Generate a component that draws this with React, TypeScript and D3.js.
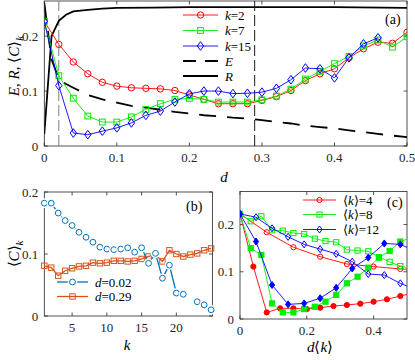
import React from 'react';
import * as d3 from 'd3';

const FONT = '"Liberation Serif","Times New Roman",serif';
const AX = '#262626';

// ---------- Panel (a) ----------
const dGrid = [0, 0.02, 0.04, 0.06, 0.08, 0.1, 0.12, 0.14, 0.16, 0.18, 0.2, 0.22, 0.24, 0.26, 0.28, 0.3, 0.32, 0.34, 0.36, 0.38, 0.4, 0.42, 0.44, 0.46, 0.48, 0.5];
const cK2 = [0.227, 0.185, 0.153, 0.1315, 0.116, 0.109, 0.106, 0.105, 0.104, 0.101, 0.093, 0.085, 0.077, 0.077, 0.077, 0.083, 0.09, 0.101, 0.119, 0.1315, 0.1406, 0.1606, 0.177, 0.189, 0.187, 0.207];
const cK7 = [0.227, 0.128, 0.087, 0.0545, 0.0436, 0.0436, 0.053, 0.0667, 0.077, 0.085, 0.0867, 0.085, 0.08, 0.08, 0.08, 0.084, 0.091, 0.1036, 0.122, 0.136, 0.15, 0.163, 0.182, 0.193, 0.18, 0.199];
const dK15 = [0, 0.02, 0.04, 0.06, 0.08, 0.1, 0.12, 0.14, 0.16, 0.18, 0.2, 0.22, 0.24, 0.26, 0.28, 0.3, 0.32, 0.34, 0.36, 0.38, 0.4, 0.42, 0.44, 0.46];
const cK15 = [0.227, 0.11, 0.0236, 0.0206, 0.027, 0.033, 0.042, 0.0558, 0.0636, 0.08, 0.095, 0.1, 0.1, 0.0955, 0.096, 0.098, 0.105, 0.1206, 0.142, 0.1406, 0.124, 0.1606, 0.186, 0.197];
const eD = [0, 0.01, 0.02, 0.03, 0.04, 0.06, 0.08, 0.1, 0.12, 0.14, 0.16, 0.18, 0.2, 0.22, 0.24, 0.26, 0.28, 0.3, 0.32, 0.34, 0.36, 0.38, 0.4, 0.42, 0.44, 0.46, 0.48, 0.5];
const eVals = [0.26, 0.158, 0.122, 0.113, 0.106, 0.093, 0.085, 0.079, 0.073, 0.07, 0.066, 0.062, 0.059, 0.056, 0.054, 0.0515, 0.05, 0.047, 0.044, 0.041, 0.037, 0.0345, 0.032, 0.0285, 0.0255, 0.022, 0.019, 0.016];
const rD = [0, 0.01, 0.02, 0.03, 0.04, 0.06, 0.08, 0.1, 0.15, 0.2, 0.3, 0.4, 0.5];
const rVals = [0.022, 0.2, 0.228, 0.239, 0.245, 0.248, 0.25, 0.2515, 0.252, 0.2527, 0.253, 0.2527, 0.2515];
const dMarks = [0.02, 0.29];
const aXTicks = [0, 0.1, 0.2, 0.3, 0.4, 0.5];
const aYTicks = [0, 0.1, 0.2];

// ---------- Panel (b) ----------
const kVals = [1, 2, 3, 4, 5, 6, 7, 8, 9, 10, 11, 12, 13, 14, 15, 16, 17, 18, 19, 20, 21, 22, 23, 24, 25];
const bD002 = [0.182, 0.182, 0.166, 0.154, 0.146, 0.135, 0.127, 0.119, 0.111, 0.108, 0.107, 0.108, 0.11, 0.103, 0.11, 0.085, 0.101, 0.061, 0.082, 0.037, 0.035, null, 0.023, 0.018, 0.01];
const bD029 = [0.081, 0.078, 0.065, 0.073, 0.077, 0.08, 0.081, 0.086, 0.085, 0.086, 0.089, 0.089, 0.088, 0.089, 0.092, 0.096, 0.099, 0.088, 0.106, 0.1, 0.096, 0.099, 0.101, 0.106, 0.109];
const bXTicks = [5, 10, 15, 20];
const bYTicks = [0, 0.1, 0.2];

// ---------- Panel (c) ----------
const c4OpenX = [0, 0.08, 0.16, 0.24, 0.32, 0.4, 0.48, 0.56];
const c4OpenY = [0.2225, 0.1836, 0.152, 0.132, 0.1165, 0.111, 0.106, 0.103];
const c4FillX = [0, 0.04, 0.08, 0.12, 0.16, 0.2, 0.24, 0.28, 0.32, 0.36, 0.4, 0.44, 0.48, 0.52];
const c4FillY = [0.2225, 0.111, 0.014, 0.0226, 0.0226, 0.021, 0.024, 0.0275, 0.0297, 0.0325, 0.0367, 0.0417, 0.0487, 0.055];
const c8X = [0, 0.032, 0.064, 0.096, 0.128, 0.16, 0.192, 0.224, 0.256, 0.288, 0.32, 0.352, 0.384, 0.416, 0.448, 0.48, 0.512];
const c8OpenY = [0.2225, 0.207, 0.2176, 0.188, 0.187, 0.182, 0.18, 0.17, 0.165, 0.1625, 0.147, 0.145, 0.1434, 0.131, 0.121, 0.112, 0.107];
const c8FillY = [0.2225, 0.15, 0.1356, 0.033, 0.014, 0.014, 0.021, 0.026, 0.0367, 0.051, 0.0756, 0.0896, 0.1087, 0.13, 0.144, 0.164, 0.172];
const c12X = [0, 0.048, 0.096, 0.144, 0.192, 0.24, 0.288, 0.336, 0.384, 0.432, 0.48, 0.528];
const c12OpenY = [0.2225, 0.2155, 0.192, 0.174, 0.158, 0.148, 0.138, 0.1214, 0.0953, 0.093, 0.0756, 0.062];
const c12FillY = [0.2225, 0.164, 0.072, 0.031, 0.033, 0.044, 0.066, 0.107, 0.13, 0.16, 0.158, 0.143];
const cXTicks = [0, 0.2, 0.4];
const cYTicks = [0, 0.1, 0.2];

const RED = '#ff0000';
const GREEN = '#00ee00';
const BLUE = '#0000ff';
const MBLUE = '#0072BD';
const MORANGE = '#D95319';

type Shape = 'circle' | 'square' | 'diamond';

function Marker({ shape, x, y, color, fill = 'none', s = 3, sw = 1, halo = 0 }: any) {
  const els: any[] = [];
  const mk = (stroke: string, w: number, f: string, key: string) => {
    if (shape === 'circle') return <circle key={key} cx={x} cy={y} r={s} stroke={stroke} strokeWidth={w} fill={f} />;
    if (shape === 'square') return <rect key={key} x={x - s} y={y - s} width={2 * s} height={2 * s} stroke={stroke} strokeWidth={w} fill={f} />;
    const hw = s, hh = s * 1.35;
    return <path key={key} d={`M${x},${y - hh}L${x + hw},${y}L${x},${y + hh}L${x - hw},${y}Z`} stroke={stroke} strokeWidth={w} fill={f} />;
  };
  if (halo) els.push(mk('#ffffff', sw + halo * 2, '#ffffff', 'h'));
  els.push(mk(color, sw, fill, 'm'));
  return <g>{els}</g>;
}

function Series({ xs, ys, sx, sy, color, shape, fill = 'none', s = 3, lw = 0.9, halo = 0, clip }: any) {
  const pts: [number, number | null][] = xs.map((x: number, i: number) => [x, ys[i]]);
  const line = d3.line<[number, number | null]>()
    .defined(d => d[1] != null)
    .x(d => sx(d[0]))
    .y(d => sy(d[1] as number));
  return (
    <g clipPath={clip ? `url(#${clip})` : undefined}>
      <path d={line(pts) || ''} fill="none" stroke={color} strokeWidth={lw} />
      {pts.filter(p => p[1] != null).map((p, i) => (
        <Marker key={i} shape={shape} x={sx(p[0])} y={sy(p[1] as number)} color={color} fill={fill} s={s} halo={halo} />
      ))}
    </g>
  );
}

function Frame({ sx, sy, xTicks, yTicks, xFmt, yFmt, id }: any) {
  const [x0, x1] = sx.range();
  const [y0, y1] = sy.range(); // y0 bottom, y1 top
  const tl = 3.5;
  return (
    <g>
      <defs>
        <clipPath id={id}>
          <rect x={x0} y={y1} width={x1 - x0} height={y0 - y1} />
        </clipPath>
      </defs>
      <rect x={x0} y={y1} width={x1 - x0} height={y0 - y1} fill="none" stroke={AX} strokeWidth={0.8} />
      {xTicks.map((t: number) => (
        <g key={'x' + t}>
          <line x1={sx(t)} x2={sx(t)} y1={y0} y2={y0 - tl} stroke={AX} strokeWidth={0.8} />
          <line x1={sx(t)} x2={sx(t)} y1={y1} y2={y1 + tl} stroke={AX} strokeWidth={0.8} />
          <text x={sx(t)} y={y0 + 16} textAnchor="middle" fontSize={13} fontFamily={FONT} fill={AX}>{xFmt(t)}</text>
        </g>
      ))}
      {yTicks.map((t: number) => (
        <g key={'y' + t}>
          <line x1={x0} x2={x0 + tl} y1={sy(t)} y2={sy(t)} stroke={AX} strokeWidth={0.8} />
          <line x1={x1} x2={x1 - tl} y1={sy(t)} y2={sy(t)} stroke={AX} strokeWidth={0.8} />
          <text x={x0 - 6} y={sy(t) + 4.5} textAnchor="end" fontSize={13} fontFamily={FONT} fill={AX}>{yFmt(t)}</text>
        </g>
      ))}
    </g>
  );
}

const fmt = (t: number) => (t === 0 ? '0' : String(+t.toFixed(2)));

function LegendRow({ x1, x2, y, color, shape, label, s = 3, dash, lw = 0.9, halo = 0, noMarker = false }: any) {
  return (
    <g>
      <line x1={x1} x2={x2} y1={y} y2={y} stroke={color} strokeWidth={lw} strokeDasharray={dash} />
      {!noMarker && <Marker shape={shape} x={(x1 + x2) / 2} y={y} color={color} s={s} halo={halo} fill={halo ? '#fff' : 'none'} />}
      <text x={x2 + 7} y={y + 4.5} fontSize={13} fontFamily={FONT} fill="#000">{label}</text>
    </g>
  );
}

const I = ({ children }: any) => <tspan fontStyle="italic">{children}</tspan>;

export default function App() {
  // Panel (a)
  const ax = d3.scaleLinear().domain([0, 0.5]).range([44.3, 407]);
  const ay = d3.scaleLinear().domain([0, 0.264]).range([146, 1]);
  const eLine = d3.line<number>().x((_, i) => ax(eD[i])).y(v => ay(v));
  const rLine = d3.line<number>().x((_, i) => ax(rD[i])).y(v => ay(v));

  // Panel (b)
  const bx = d3.scaleLinear().domain([1, 25.2]).range([44.3, 212.5]);
  const by = d3.scaleLinear().domain([0, 0.2]).range([316, 192]);

  // Panel (c)
  const cx = d3.scaleLinear().domain([0, 0.5]).range([240, 407]);
  const cy = d3.scaleLinear().domain([0, 0.27]).range([319, 191.5]);

  return (
    <svg width={415} height={360} style={{ position: 'absolute', left: 0, top: 0, background: '#fff' }} fontFamily={FONT}>
      <rect x={0} y={0} width={415} height={360} fill="#fff" />
      {/* ---------- (a) ---------- */}
      <Frame sx={ax} sy={ay} xTicks={aXTicks} yTicks={aYTicks} xFmt={fmt} yFmt={fmt} id="clipA" />
      <g clipPath="url(#clipA)">
        <line x1={ax(dMarks[0])} x2={ax(dMarks[0])} y1={ay.range()[0]} y2={ay.range()[1]} stroke="#7f7f7f" strokeWidth={1} strokeDasharray="11 4" />
        <line x1={ax(dMarks[1])} x2={ax(dMarks[1])} y1={ay.range()[0]} y2={ay.range()[1]} stroke="#000" strokeWidth={0.9} strokeDasharray="11 4" />
        <path d={eLine(eVals) || ''} fill="none" stroke="#000" strokeWidth={1.8} strokeDasharray="17 11" />
        <path d={rLine(rVals) || ''} fill="none" stroke="#000" strokeWidth={1.8} />
      </g>
      <Series xs={dGrid} ys={cK2} sx={ax} sy={ay} color={RED} shape="circle" s={3.2} clip="clipA" />
      <Series xs={dGrid} ys={cK7} sx={ax} sy={ay} color={GREEN} shape="square" s={2.9} clip="clipA" />
      <Series xs={dK15} ys={cK15} sx={ax} sy={ay} color={BLUE} shape="diamond" s={3.2} clip="clipA" />
      <LegendRow x1={183} x2={218} y={15} color={RED} shape="circle" s={3.2} label={<><I>k</I>=2</>} />
      <LegendRow x1={183} x2={218} y={30.5} color={GREEN} shape="square" s={2.9} label={<><I>k</I>=7</>} />
      <LegendRow x1={183} x2={218} y={46} color={BLUE} shape="diamond" s={3.2} label={<><I>k</I>=15</>} />
      <LegendRow x1={183} x2={218} y={61} color="#000" lw={1.8} dash="13 9" noMarker label={<I>E</I>} />
      <LegendRow x1={183} x2={218} y={76} color="#000" lw={1.8} noMarker label={<I>R</I>} />
      <text x={385} y={24} fontSize={14} fontFamily={FONT}>(a)</text>
      <text x={224} y={182} fontSize={15} fontFamily={FONT} fontStyle="italic" textAnchor="middle">d</text>
      <text transform="translate(19,66) rotate(-90)" fontSize={15} fontFamily={FONT} textAnchor="middle">
        <I>E</I>, <I>R</I>, ⟨<I>C</I>⟩<tspan fontStyle="italic" fontSize={11} dy={4}>k</tspan>
      </text>

      {/* ---------- (b) ---------- */}
      <Frame sx={bx} sy={by} xTicks={bXTicks} yTicks={bYTicks} xFmt={(t: number) => String(t)} yFmt={fmt} id="clipB" />
      <Series xs={kVals} ys={bD029} sx={bx} sy={by} color={MORANGE} shape="square" s={2.7} lw={1.3} />
      <Series xs={kVals} ys={bD002} sx={bx} sy={by} color={MBLUE} shape="circle" s={2.9} lw={1.3} halo={1.4} fill="#fff" />
      <LegendRow x1={57} x2={88} y={282} color={MBLUE} shape="circle" s={2.9} lw={1.3} halo={1.4} label={<><I>d</I>=0.02</>} />
      <LegendRow x1={57} x2={88} y={296.5} color={MORANGE} shape="square" s={2.7} lw={1.3} label={<><I>d</I>=0.29</>} />
      <text x={186} y={211} fontSize={14} fontFamily={FONT}>(b)</text>
      <text x={127} y={350} fontSize={15} fontFamily={FONT} fontStyle="italic" textAnchor="middle">k</text>
      <text transform="translate(19,254) rotate(-90)" fontSize={15} fontFamily={FONT} textAnchor="middle">
        ⟨<I>C</I>⟩<tspan fontStyle="italic" fontSize={11} dy={4}>k</tspan>
      </text>

      {/* ---------- (c) ---------- */}
      <Frame sx={cx} sy={cy} xTicks={cXTicks} yTicks={cYTicks} xFmt={fmt} yFmt={fmt} id="clipC" />
      <Series xs={c4OpenX} ys={c4OpenY} sx={cx} sy={cy} color={RED} shape="circle" s={2.6} clip="clipC" />
      <Series xs={c4FillX} ys={c4FillY} sx={cx} sy={cy} color={RED} shape="circle" s={2.6} fill={RED} clip="clipC" />
      <Series xs={c8X} ys={c8OpenY} sx={cx} sy={cy} color={GREEN} shape="square" s={2.6} clip="clipC" />
      <Series xs={c8X} ys={c8FillY} sx={cx} sy={cy} color={GREEN} shape="square" s={2.6} fill={GREEN} clip="clipC" />
      <Series xs={c12X} ys={c12OpenY} sx={cx} sy={cy} color={BLUE} shape="diamond" s={2.6} clip="clipC" />
      <Series xs={c12X} ys={c12FillY} sx={cx} sy={cy} color={BLUE} shape="diamond" s={2.6} fill={BLUE} clip="clipC" />
      <LegendRow x1={303} x2={336} y={200} color={RED} shape="circle" s={2.6} label={<>⟨<I>k</I>⟩=4</>} />
      <LegendRow x1={303} x2={336} y={214.5} color={GREEN} shape="square" s={2.6} label={<>⟨<I>k</I>⟩=8</>} />
      <LegendRow x1={303} x2={336} y={229.5} color={BLUE} shape="diamond" s={2.6} label={<>⟨<I>k</I>⟩=12</>} />
      <text x={387} y={207} fontSize={14} fontFamily={FONT}>(c)</text>
      <text x={320} y={352} fontSize={15} fontFamily={FONT} textAnchor="middle"><I>d</I>⟨<I>k</I>⟩</text>
    </svg>
  );
}
